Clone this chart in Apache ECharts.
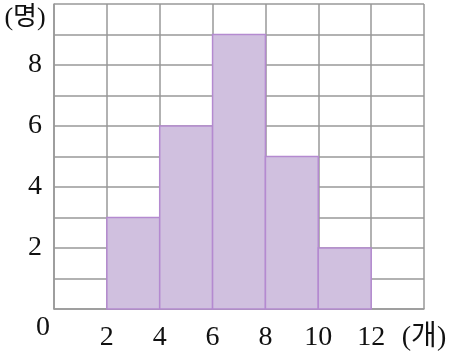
<!DOCTYPE html>
<html><head><meta charset="utf-8">
<script src="https://cdn.jsdelivr.net/npm/echarts@6/dist/echarts.min.js"></script>
<style>html,body{margin:0;padding:0;background:#fff}#c{width:454px;height:357px}</style>
</head><body><div id="c"></div>
<script>
const binStarts = [2, 4, 6, 8, 10];
const binWidth = 2;
const counts = [3, 6, 9, 5, 2];
const xTicks = [0, 2, 4, 6, 8, 10, 12, 14];
const yTickLabels = [2, 4, 6, 8];
const xUnit = '(개)';
const yUnit = '(명)';

const FONT = '"Liberation Serif", "DejaVu Serif", "Noto Sans CJK KR", serif';
const chart = echarts.init(document.getElementById('c'), null, {renderer: 'canvas'});
const data = binStarts.map((s, i) => [s, counts[i]]);
chart.setOption({
  animation: false,
  grid: {left: 54, right: 30, top: 4, bottom: 48, containLabel: false},
  xAxis: {
    type: 'value', min: 0, max: 14, interval: 2,
    axisLine: {show: true, lineStyle: {color: '#999', width: 1.5}},
    axisTick: {show: false},
    splitLine: {show: true, lineStyle: {color: '#999', width: 1.5}},
    axisLabel: {
      margin: 15, fontFamily: FONT, fontSize: 28, color: '#111',
      formatter: v => v === 0 ? '' : (v === 14 ? xUnit : (xTicks.includes(v) ? String(v) : ''))
    }
  },
  yAxis: {
    type: 'value', min: 0, max: 10, interval: 1,
    axisLine: {show: true, lineStyle: {color: '#999', width: 1.5}},
    axisTick: {show: false},
    splitLine: {show: true, lineStyle: {color: '#999', width: 1.5}},
    axisLabel: {
      margin: 12, fontFamily: FONT, fontSize: 28, color: '#111',
      formatter: v => yTickLabels.includes(v) ? String(v) : ''
    }
  },
  graphic: [
    {type: 'text', x: 25, y: 18, style: {text: yUnit, font: '26px ' + FONT, fill: '#111', align: 'center', verticalAlign: 'middle'}},
    {type: 'text', x: 43, y: 328, style: {text: '0', font: '28px ' + FONT, fill: '#111', align: 'center', verticalAlign: 'middle'}}
  ],
  series: [{
    type: 'custom',
    data: data,
    renderItem: function (params, api) {
      const x0 = api.value(0), v = api.value(1);
      const p0 = api.coord([x0, 0]);
      const p1 = api.coord([x0 + binWidth, v]);
      return {
        type: 'rect',
        shape: {x: p0[0], y: p1[1], width: p1[0] - p0[0], height: p0[1] - p1[1]},
        style: {fill: '#d0c0df', stroke: '#b48ad0', lineWidth: 1.5}
      };
    }
  }]
});
</script></body></html>
